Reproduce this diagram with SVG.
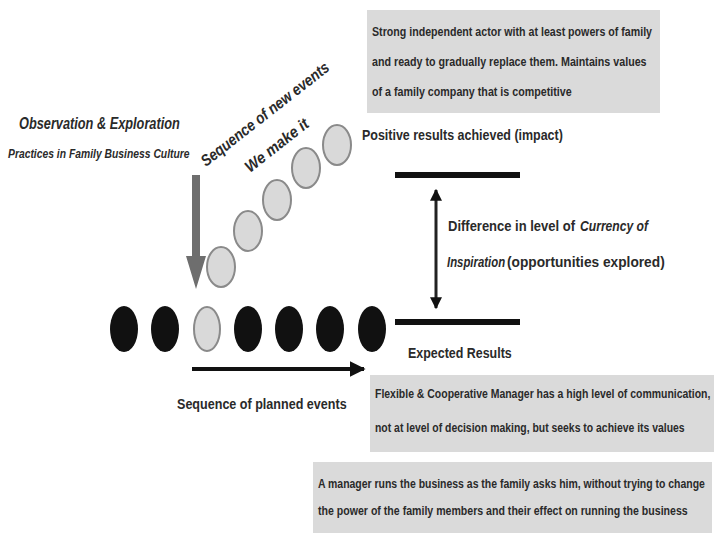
<svg xmlns="http://www.w3.org/2000/svg" width="716" height="535" viewBox="0 0 716 535">
  <defs>
    <style>
      .t { font-family: "Liberation Sans", Arial, sans-serif; font-weight: bold; fill: #2a2a2a; }
      .it { font-style: italic; }
      .box { fill: #dadada; }
      .new { fill: #d9d9d9; stroke: #8a8a8a; stroke-width: 2; }
      .plan { fill: #111; }
      .bar { stroke: #111; stroke-width: 6; }
    </style>
    <marker id="headBlack" viewBox="0 0 10 10" refX="9" refY="5" markerWidth="4" markerHeight="4" orient="auto-start-reverse">
      <path d="M0,0 L10,5 L0,10 z" fill="#111"/>
    </marker>
  </defs>
  <rect width="716" height="535" fill="#ffffff"/>

  <!-- outcome boxes (condensed lettering via horizontal scale) -->
  <g id="box-strong-actor">
    <rect class="box" x="367" y="10" width="293" height="103"/>
    <text class="t" font-size="13.5" transform="translate(372,36) scale(0.78,1)" textLength="359" lengthAdjust="spacingAndGlyphs">Strong independent actor with at least powers of family</text>
    <text class="t" font-size="13.5" transform="translate(372,66) scale(0.78,1)" textLength="352" lengthAdjust="spacingAndGlyphs">and ready to gradually replace them. Maintains values</text>
    <text class="t" font-size="13.5" transform="translate(372,96) scale(0.78,1)" textLength="256" lengthAdjust="spacingAndGlyphs">of a family company that is competitive</text>
  </g>
  <g id="box-flexible-manager">
    <rect class="box" x="370" y="375" width="344" height="77"/>
    <text class="t" font-size="13.5" transform="translate(375,398) scale(0.78,1)" textLength="430" lengthAdjust="spacingAndGlyphs">Flexible &amp; Cooperative Manager has a high level of communication,</text>
    <text class="t" font-size="13.5" transform="translate(375,432) scale(0.78,1)" textLength="397" lengthAdjust="spacingAndGlyphs">not at level of decision making, but seeks to achieve its values</text>
  </g>
  <g id="box-manager">
    <rect class="box" x="313" y="462" width="399" height="71"/>
    <text class="t" font-size="13.5" transform="translate(318,488) scale(0.78,1)" textLength="496" lengthAdjust="spacingAndGlyphs">A manager runs the business as the family asks him, without trying to change</text>
    <text class="t" font-size="13.5" transform="translate(318,515) scale(0.78,1)" textLength="474" lengthAdjust="spacingAndGlyphs">the power of the family members and their effect on running the business</text>
  </g>

  <!-- observation labels -->
  <g id="observation">
    <text class="t it" font-size="16" transform="translate(19,129) scale(0.8,1)" textLength="201" lengthAdjust="spacingAndGlyphs">Observation &amp; Exploration</text>
    <text class="t it" font-size="13" transform="translate(8,158) scale(0.8,1)" textLength="227" lengthAdjust="spacingAndGlyphs">Practices in Family Business Culture</text>
  </g>

  <!-- new event sequence -->
  <g id="new-events">
    <ellipse class="new" cx="221" cy="267" rx="14" ry="20"/>
    <ellipse class="new" cx="248" cy="231" rx="14" ry="20"/>
    <ellipse class="new" cx="277" cy="200" rx="14" ry="20"/>
    <ellipse class="new" cx="306" cy="168" rx="14" ry="20"/>
    <ellipse class="new" cx="337" cy="145" rx="14" ry="20"/>
    <text class="t it" font-size="16" transform="translate(206,167) rotate(-38) scale(0.85,1)" textLength="186" lengthAdjust="spacingAndGlyphs">Sequence of new events</text>
    <text class="t it" font-size="16" transform="translate(250,173) rotate(-38) scale(0.93,1)" textLength="82" lengthAdjust="spacingAndGlyphs">We make it</text>
  </g>

  <!-- planned event sequence -->
  <g id="planned-events">
    <ellipse class="plan" cx="124" cy="329" rx="14" ry="23"/>
    <ellipse class="plan" cx="165" cy="329" rx="14" ry="23"/>
    <ellipse class="new" cx="207" cy="329" rx="13" ry="22"/>
    <ellipse class="plan" cx="248" cy="329" rx="14" ry="23"/>
    <ellipse class="plan" cx="289" cy="329" rx="14" ry="23"/>
    <ellipse class="plan" cx="330" cy="329" rx="14" ry="23"/>
    <ellipse class="plan" cx="372" cy="329" rx="14" ry="23"/>
    <text class="t" font-size="15" transform="translate(177,409) scale(0.84,1)" textLength="202" lengthAdjust="spacingAndGlyphs">Sequence of planned events</text>
  </g>

  <!-- result levels -->
  <g id="positive-results">
    <line class="bar" x1="395" y1="175" x2="520" y2="175"/>
    <text class="t" font-size="15" transform="translate(362,140) scale(0.83,1)" textLength="242" lengthAdjust="spacingAndGlyphs">Positive results achieved (impact)</text>
  </g>
  <g id="expected-results">
    <line class="bar" x1="395" y1="322" x2="520" y2="322"/>
    <text class="t" font-size="15" transform="translate(408,358) scale(0.83,1)" textLength="125" lengthAdjust="spacingAndGlyphs">Expected Results</text>
  </g>
  <g id="difference-label">
    <text class="t" font-size="15" transform="translate(448,231) scale(0.83,1)" textLength="153" lengthAdjust="spacingAndGlyphs">Difference in level of</text>
    <text class="t it" font-size="15" transform="translate(580,231) scale(0.83,1)" textLength="82" lengthAdjust="spacingAndGlyphs">Currency of</text>
    <text class="t it" font-size="15" transform="translate(447,267) scale(0.83,1)" textLength="70" lengthAdjust="spacingAndGlyphs">Inspiration</text>
    <text class="t" font-size="15" transform="translate(507,267) scale(0.83,1)" textLength="190" lengthAdjust="spacingAndGlyphs">(opportunities explored)</text>
  </g>

  <!-- connectors -->
  <g id="connectors">
    <path d="M192,175 H200 V256 H206 L196,289 L186,256 H192 Z" fill="#6e6e6e"/>
    <line x1="192" y1="369" x2="364" y2="369" stroke="#111" stroke-width="4" marker-end="url(#headBlack)"/>
    <line x1="436" y1="190" x2="436" y2="308" stroke="#222" stroke-width="3" marker-start="url(#headBlack)" marker-end="url(#headBlack)"/>
  </g>
</svg>
